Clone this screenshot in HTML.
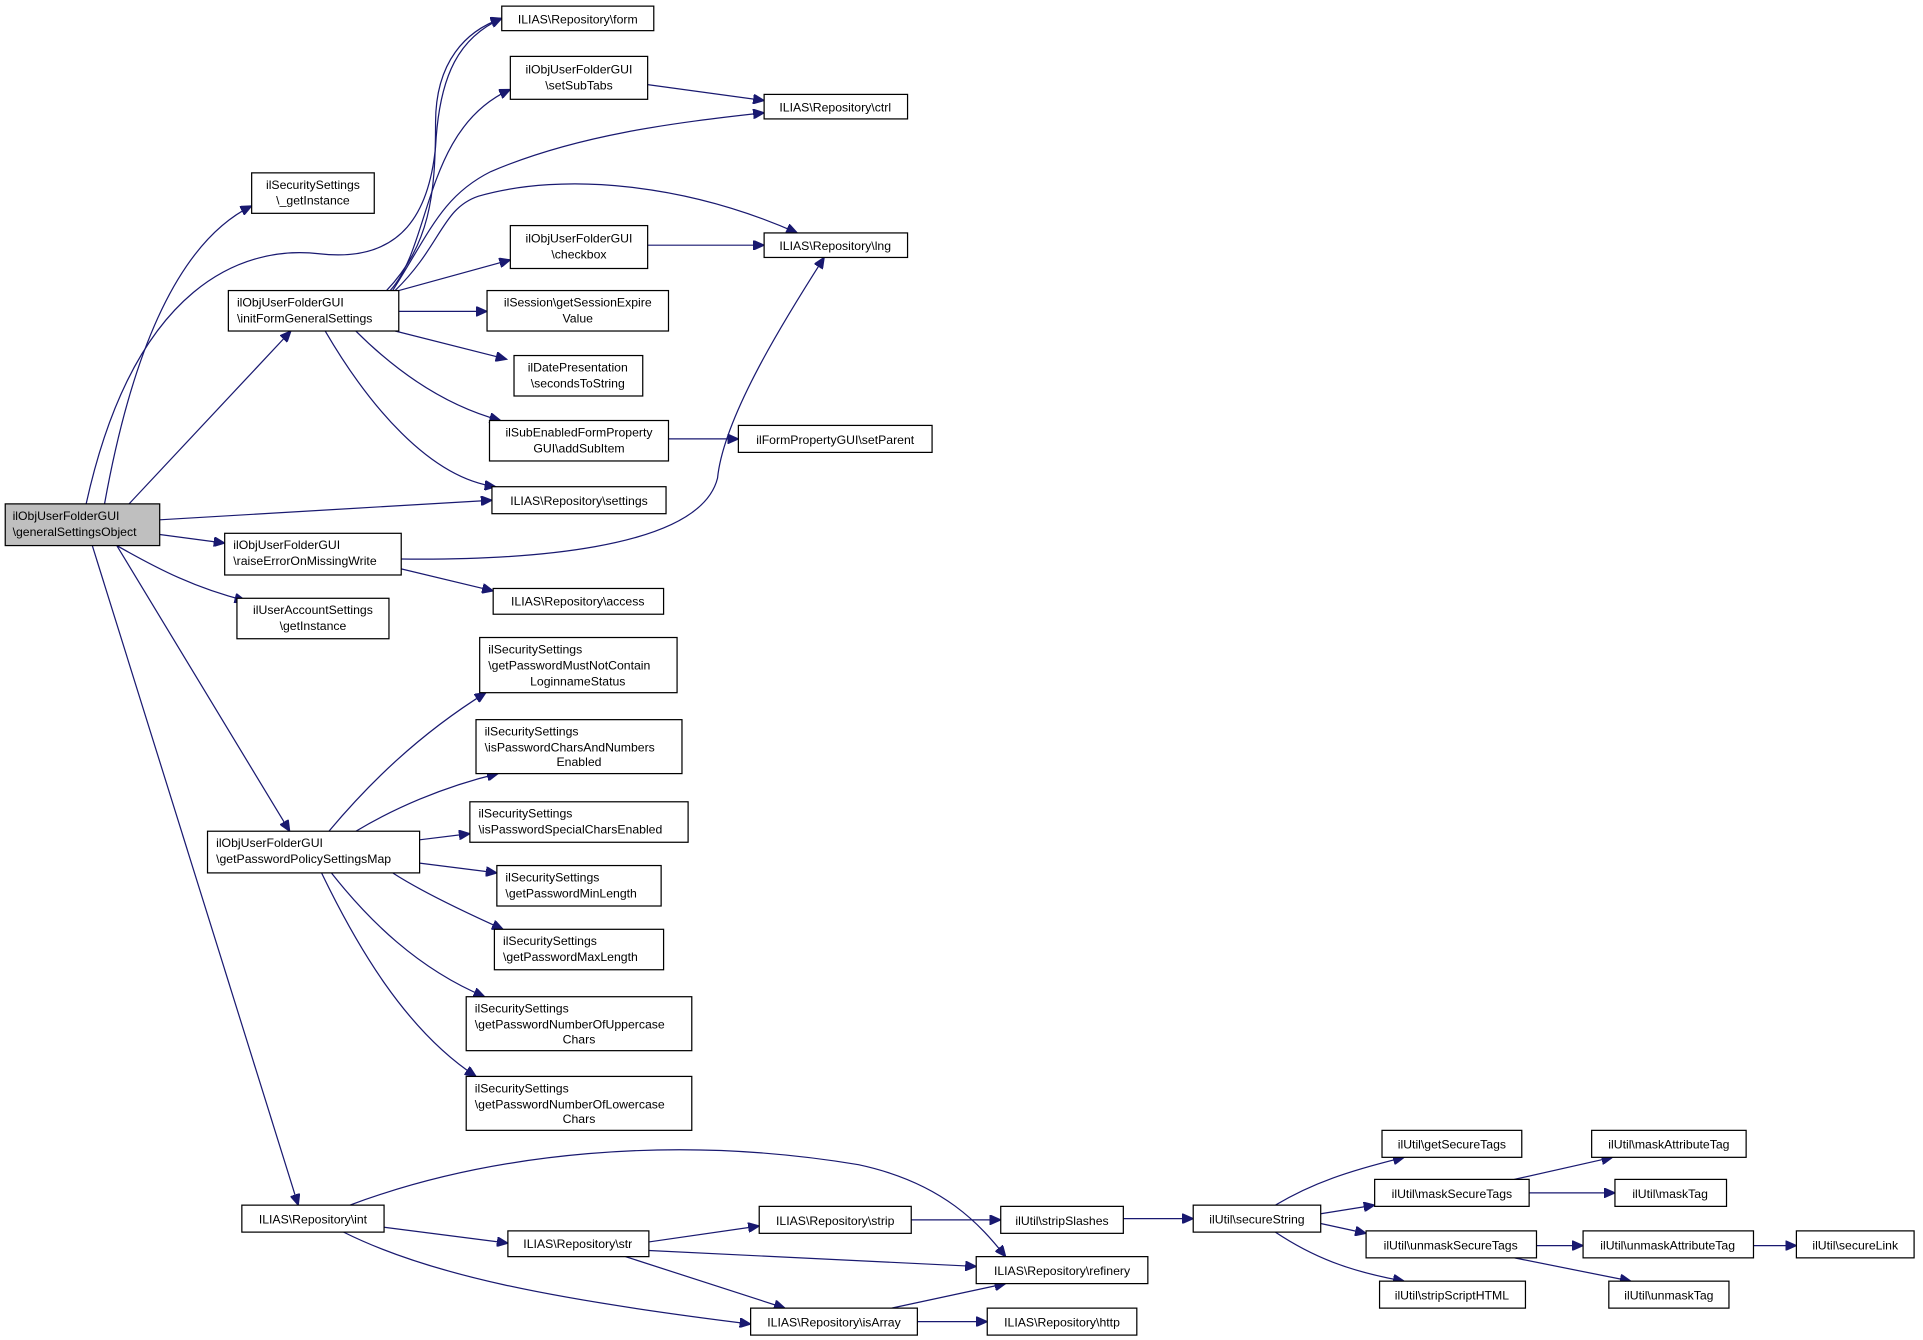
<!DOCTYPE html>
<html><head><meta charset="utf-8"><style>
html,body{margin:0;padding:0;background:#fff;}
svg{display:block;}
text{font-family:"Liberation Sans",Arial,sans-serif;font-size:10px;fill:#000;}
.n{fill:#fff;stroke:#000;stroke-width:1;}
.e{fill:none;stroke:#191970;stroke-width:1;}
</style></head><body>
<svg width="1923" height="1340" viewBox="0 0 1568 1093" xmlns="http://www.w3.org/2000/svg">
<defs><marker id="a" markerUnits="userSpaceOnUse" markerWidth="10" markerHeight="8" refX="9" refY="4" orient="auto"><path d="M0,0 L9,4 L0,8 z" fill="#191970" stroke="#191970"/></marker></defs>
<g class="e" marker-end="url(#a)">
<path d="M85,411 C105,300 140,200 205,168"/>
<path d="M70,411 C110,230 200,200 260,207 C330,215 350,170 355,120 C358,60 375,30 409,15"/>
<path d="M315,237 C350,200 355,160 355,100 C355,50 380,25 409,15"/>
<path d="M318,237 C352,200 345,105 416,73"/>
<path d="M320,237 C350,190 360,160 400,140 C470,110 550,100 623,92"/>
<path d="M322,237 C360,200 360,170 390,160 C460,140 560,150 650,190"/>
<path d="M325,237 L416,212"/>
<path d="M325,254 L397,254"/>
<path d="M322,270 L413,293"/>
<path d="M290,270 C320,300 360,330 408,343"/>
<path d="M265,270 C300,330 350,390 404,397"/>
<path d="M528,69 L623,82"/>
<path d="M528,200 L623,200"/>
<path d="M545,358 L602,358"/>
<path d="M105,411 L237,270"/>
<path d="M130,424 L401,408"/>
<path d="M130,436 L183,443"/>
<path d="M327,456 C420,457 570,450 585,390 C590,340 640,260 672,210"/>
<path d="M327,464 L402,482"/>
<path d="M95,445 C130,465 160,480 200,490"/>
<path d="M95,445 L236,678"/>
<path d="M75,445 L243,983"/>
<path d="M268,678 C300,640 340,600 396,565"/>
<path d="M290,678 C320,660 360,642 406,631"/>
<path d="M342,685 L383,680"/>
<path d="M342,704 L405,712"/>
<path d="M320,712 C340,725 370,740 410,758"/>
<path d="M270,712 C300,750 340,790 395,813"/>
<path d="M262,712 C290,770 330,840 388,878"/>
<path d="M285,983 C400,940 550,925 700,950 C770,965 800,1000 820,1025"/>
<path d="M313,1001 L414,1014"/>
<path d="M280,1005 C350,1040 450,1060 612,1080"/>
<path d="M529,1013 L619,1000"/>
<path d="M529,1020 L796,1033"/>
<path d="M510,1025 L640,1067"/>
<path d="M743,995 L816,995"/>
<path d="M727,1067 L820,1047"/>
<path d="M748,1078 L805,1078"/>
<path d="M916,994 L973,994"/>
<path d="M1040,983 C1070,965 1100,955 1145,944"/>
<path d="M1077,990 L1121,983"/>
<path d="M1077,998 L1114,1006"/>
<path d="M1040,1005 C1070,1025 1100,1037 1145,1045"/>
<path d="M1235,962 L1315,944"/>
<path d="M1247,973 L1317,973"/>
<path d="M1253,1016 L1291,1016"/>
<path d="M1235,1026 L1330,1045"/>
<path d="M1430,1016 L1465,1016"/>
</g>
<g>
<rect class="n" x="409" y="5" width="124" height="20"/><text x="471" y="19" text-anchor="middle">ILIAS\Repository\form</text>
<rect class="n" x="416" y="46" width="112" height="35"/><text x="472" y="60" text-anchor="middle">ilObjUserFolderGUI</text><text x="472" y="73" text-anchor="middle">\setSubTabs</text>
<rect class="n" x="623" y="77" width="117" height="20"/><text x="681" y="91" text-anchor="middle">ILIAS\Repository\ctrl</text>
<rect class="n" x="205" y="141" width="100" height="33"/><text x="255" y="154" text-anchor="middle">ilSecuritySettings</text><text x="255" y="167" text-anchor="middle">\_getInstance</text>
<rect class="n" x="623" y="190" width="117" height="20"/><text x="681" y="204" text-anchor="middle">ILIAS\Repository\lng</text>
<rect class="n" x="416" y="184" width="112" height="35"/><text x="472" y="198" text-anchor="middle">ilObjUserFolderGUI</text><text x="472" y="211" text-anchor="middle">\checkbox</text>
<rect class="n" x="186" y="237" width="139" height="33"/><text x="193" y="250">ilObjUserFolderGUI</text><text x="193" y="263">\initFormGeneralSettings</text>
<rect class="n" x="397" y="237" width="148" height="33"/><text x="471" y="250" text-anchor="middle">ilSession\getSessionExpire</text><text x="471" y="263" text-anchor="middle">Value</text>
<rect class="n" x="419" y="290" width="105" height="33"/><text x="471" y="303" text-anchor="middle">ilDatePresentation</text><text x="471" y="316" text-anchor="middle">\secondsToString</text>
<rect class="n" x="399" y="343" width="146" height="33"/><text x="472" y="356" text-anchor="middle">ilSubEnabledFormProperty</text><text x="472" y="369" text-anchor="middle">GUI\addSubItem</text>
<rect class="n" x="602" y="347" width="158" height="22"/><text x="681" y="362" text-anchor="middle">ilFormPropertyGUI\setParent</text>
<rect class="n" x="401" y="397" width="142" height="22"/><text x="472" y="412" text-anchor="middle">ILIAS\Repository\settings</text>
<rect x="4" y="411" width="126" height="34" fill="#bfbfbf" stroke="#000"/><text x="10" y="424">ilObjUserFolderGUI</text><text x="10" y="437">\generalSettingsObject</text>
<rect class="n" x="183" y="435" width="144" height="34"/><text x="190" y="448">ilObjUserFolderGUI</text><text x="190" y="461">\raiseErrorOnMissingWrite</text>
<rect class="n" x="402" y="480" width="139" height="21"/><text x="471" y="494" text-anchor="middle">ILIAS\Repository\access</text>
<rect class="n" x="193" y="488" width="124" height="33"/><text x="255" y="501" text-anchor="middle">ilUserAccountSettings</text><text x="255" y="514" text-anchor="middle">\getInstance</text>
<rect class="n" x="391" y="520" width="161" height="45"/><text x="398" y="533">ilSecuritySettings</text><text x="398" y="546">\getPasswordMustNotContain</text><text x="471" y="559" text-anchor="middle">LoginnameStatus</text>
<rect class="n" x="388" y="587" width="168" height="44"/><text x="395" y="600">ilSecuritySettings</text><text x="395" y="613">\isPasswordCharsAndNumbers</text><text x="472" y="625" text-anchor="middle">Enabled</text>
<rect class="n" x="383" y="654" width="178" height="33"/><text x="390" y="667">ilSecuritySettings</text><text x="390" y="680">\isPasswordSpecialCharsEnabled</text>
<rect class="n" x="405" y="706" width="134" height="33"/><text x="412" y="719">ilSecuritySettings</text><text x="412" y="732">\getPasswordMinLength</text>
<rect class="n" x="403" y="758" width="138" height="33"/><text x="410" y="771">ilSecuritySettings</text><text x="410" y="784">\getPasswordMaxLength</text>
<rect class="n" x="169" y="678" width="173" height="34"/><text x="176" y="691">ilObjUserFolderGUI</text><text x="176" y="704">\getPasswordPolicySettingsMap</text>
<rect class="n" x="380" y="813" width="184" height="44"/><text x="387" y="826">ilSecuritySettings</text><text x="387" y="839">\getPasswordNumberOfUppercase</text><text x="472" y="851" text-anchor="middle">Chars</text>
<rect class="n" x="380" y="878" width="184" height="44"/><text x="387" y="891">ilSecuritySettings</text><text x="387" y="904">\getPasswordNumberOfLowercase</text><text x="472" y="916" text-anchor="middle">Chars</text>
<rect class="n" x="197" y="983" width="116" height="22"/><text x="255" y="998" text-anchor="middle">ILIAS\Repository\int</text>
<rect class="n" x="414" y="1004" width="115" height="21"/><text x="471" y="1018" text-anchor="middle">ILIAS\Repository\str</text>
<rect class="n" x="619" y="984" width="124" height="22"/><text x="681" y="999" text-anchor="middle">ILIAS\Repository\strip</text>
<rect class="n" x="816" y="984" width="100" height="22"/><text x="866" y="999" text-anchor="middle">ilUtil\stripSlashes</text>
<rect class="n" x="796" y="1025" width="140" height="22"/><text x="866" y="1040" text-anchor="middle">ILIAS\Repository\refinery</text>
<rect class="n" x="612" y="1067" width="136" height="22"/><text x="680" y="1082" text-anchor="middle">ILIAS\Repository\isArray</text>
<rect class="n" x="805" y="1067" width="122" height="22"/><text x="866" y="1082" text-anchor="middle">ILIAS\Repository\http</text>
<rect class="n" x="973" y="983" width="104" height="22"/><text x="1025" y="998" text-anchor="middle">ilUtil\secureString</text>
<rect class="n" x="1127" y="922" width="114" height="22"/><text x="1184" y="937" text-anchor="middle">ilUtil\getSecureTags</text>
<rect class="n" x="1121" y="962" width="126" height="22"/><text x="1184" y="977" text-anchor="middle">ilUtil\maskSecureTags</text>
<rect class="n" x="1114" y="1004" width="139" height="22"/><text x="1183" y="1019" text-anchor="middle">ilUtil\unmaskSecureTags</text>
<rect class="n" x="1125" y="1045" width="119" height="22"/><text x="1184" y="1060" text-anchor="middle">ilUtil\stripScriptHTML</text>
<rect class="n" x="1298" y="922" width="126" height="22"/><text x="1361" y="937" text-anchor="middle">ilUtil\maskAttributeTag</text>
<rect class="n" x="1317" y="962" width="91" height="22"/><text x="1362" y="977" text-anchor="middle">ilUtil\maskTag</text>
<rect class="n" x="1291" y="1004" width="139" height="22"/><text x="1360" y="1019" text-anchor="middle">ilUtil\unmaskAttributeTag</text>
<rect class="n" x="1312" y="1045" width="98" height="22"/><text x="1361" y="1060" text-anchor="middle">ilUtil\unmaskTag</text>
<rect class="n" x="1465" y="1004" width="96" height="22"/><text x="1513" y="1019" text-anchor="middle">ilUtil\secureLink</text>
</g>
</svg>
</body></html>
